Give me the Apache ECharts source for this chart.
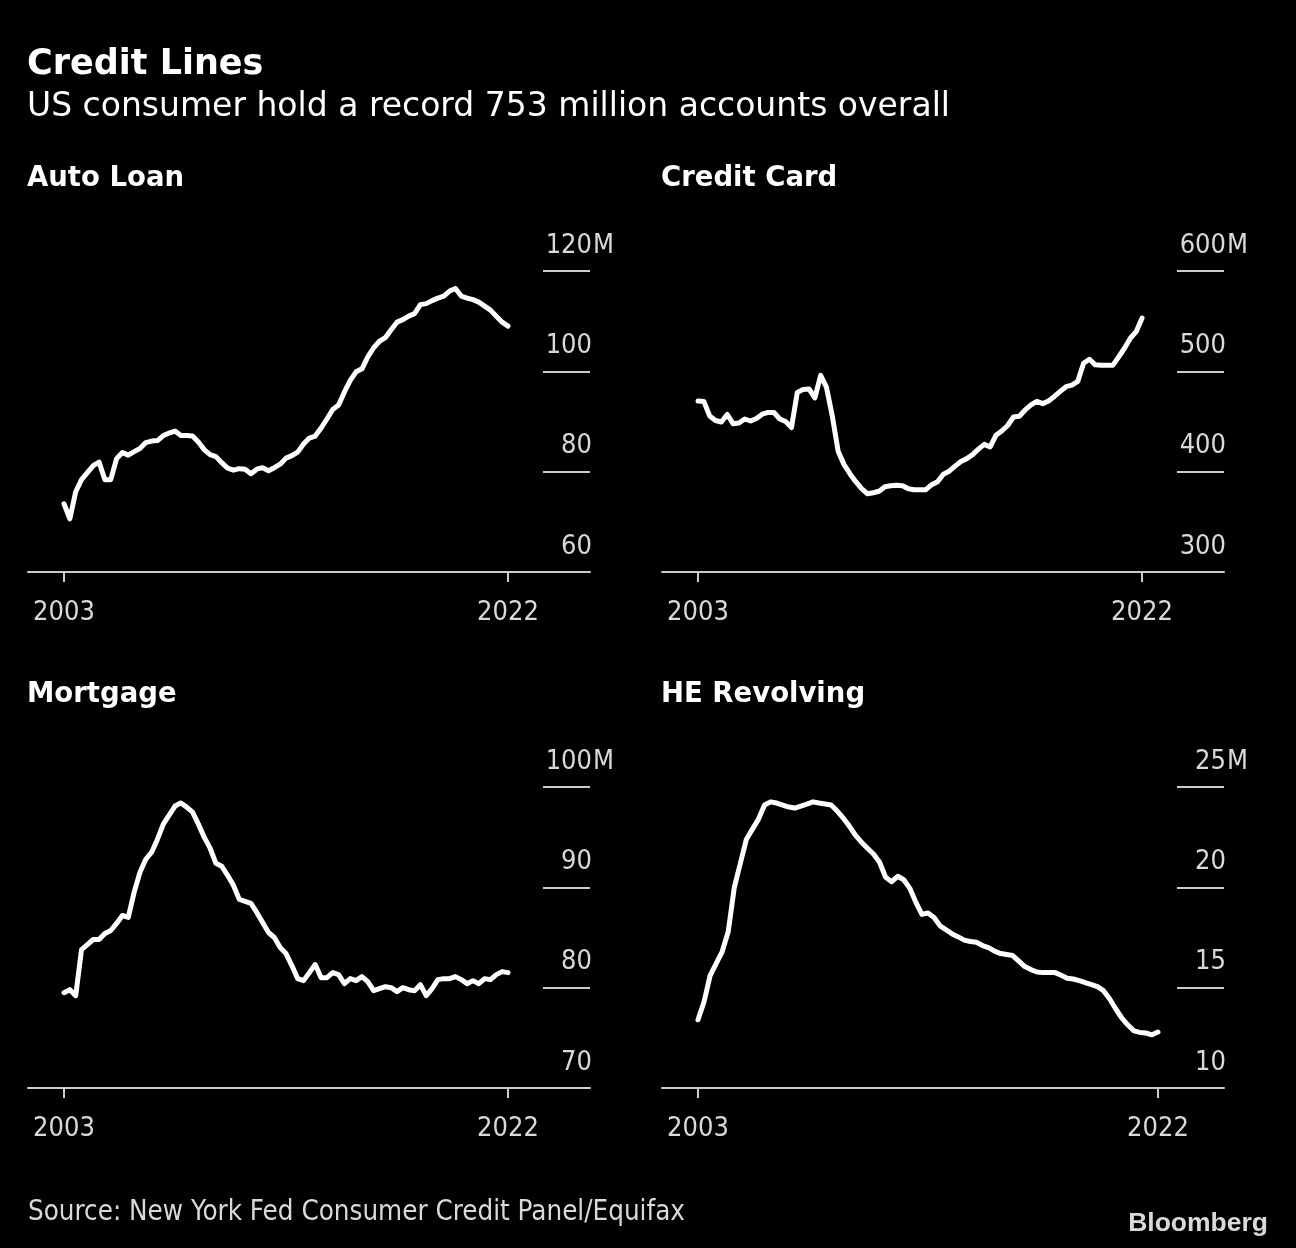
<!DOCTYPE html>
<html>
<head>
<meta charset="utf-8">
<script src="https://cdn.jsdelivr.net/npm/echarts@6/dist/echarts.min.js"></script>
<style>
html,body{margin:0;padding:0;background:#000;}
#chart{width:1296px;height:1248px;}
</style>
</head>
<body>
<div id="chart"></div>
<script>
// Quarterly data, 2003 Q1 .. 2022 Q1 (millions of accounts)
const startYear = 2003;
const xTickYears = [2003, 2022];

const panelTitles = ['Auto Loan', 'Credit Card', 'Mortgage', 'HE Revolving'];

const autoLoan = [
  73.6, 70.6, 76.0, 78.4, 79.8, 81.2, 81.9, 78.4, 78.4, 82.6,
  83.8, 83.3, 84.0, 84.6, 85.8, 86.1, 86.2, 87.2, 87.7, 88.1,
  87.2, 87.2, 87.1, 85.9, 84.4, 83.4, 83.0, 81.8, 80.7, 80.3,
  80.6, 80.5, 79.6, 80.5, 80.8, 80.2, 80.8, 81.5, 82.7, 83.2,
  83.9, 85.5, 86.7, 87.1, 88.7, 90.5, 92.4, 93.3, 95.9, 98.2,
  99.9, 100.5, 102.9, 104.7, 106.0, 106.7, 108.3, 109.8, 110.3, 111.0,
  111.5, 113.3, 113.5, 114.1, 114.6, 115.0, 116.0, 116.5, 115.0, 114.6,
  114.3, 113.8, 113.0, 112.2, 111.0, 109.8, 109.0
];

const creditCard = [
  470.4, 470.0, 455.5, 451.0, 449.5, 457.0, 447.8, 448.5, 452.5, 450.5,
  453.0, 457.3, 459.0, 459.0, 452.5, 450.0, 444.0, 479.0, 482.0, 482.5,
  473.5, 496.0, 484.0, 455.0, 420.0, 407.0, 398.0, 390.0, 383.0, 378.0,
  379.0, 380.5, 385.0, 386.0, 386.4, 386.0, 383.0, 382.0, 382.0, 382.0,
  387.0, 390.0, 397.5, 400.5, 405.5, 410.2, 413.0, 417.0, 422.5, 427.2,
  424.6, 436.2, 440.5, 446.0, 454.5, 455.3, 461.5, 466.5, 470.0, 467.8,
  470.5, 475.0, 480.0, 484.7, 486.3, 490.0, 508.0, 512.0, 506.5, 506.0,
  506.0, 506.0, 514.3, 523.0, 533.0, 539.5, 553.0
];

const mortgage = [
  79.5, 79.8, 79.2, 83.8, 84.3, 84.8, 84.8, 85.4, 85.7, 86.4,
  87.2, 87.0, 89.5, 91.5, 92.8, 93.5, 94.8, 96.3, 97.2, 98.1,
  98.4, 98.0, 97.5, 96.3, 95.0, 93.9, 92.4, 92.1, 91.2, 90.2,
  88.8, 88.6, 88.4, 87.5, 86.5, 85.5, 85.0, 84.0, 83.4, 82.2,
  80.9, 80.7, 81.5, 82.3, 81.0, 81.0, 81.5, 81.3, 80.4, 80.9,
  80.7, 81.1, 80.6, 79.7, 79.9, 80.1, 80.0, 79.6, 80.0, 79.8,
  79.7, 80.3, 79.2, 79.9, 80.8, 80.9, 80.9, 81.1, 80.8, 80.4,
  80.7, 80.4, 80.9, 80.8, 81.3, 81.6, 81.5
];

const heRevolving = [
  13.4, 14.3, 15.6, 16.2, 16.8, 17.8, 20.0, 21.2, 22.4, 22.9,
  23.4, 24.1, 24.26, 24.2, 24.1, 24.0, 23.95, 24.05, 24.15, 24.26,
  24.2, 24.15, 24.1, 23.8, 23.45, 23.05, 22.6, 22.25, 21.95, 21.66,
  21.25, 20.5, 20.28, 20.55, 20.38, 19.95, 19.25, 18.65, 18.72, 18.5,
  18.08, 17.88, 17.68, 17.53, 17.37, 17.3, 17.26, 17.1, 17.0, 16.82,
  16.7, 16.65, 16.6, 16.32, 16.05, 15.9, 15.78, 15.75, 15.75, 15.75,
  15.62, 15.47, 15.43, 15.35, 15.25, 15.15, 15.05, 14.85, 14.45, 13.95,
  13.5, 13.15, 12.85, 12.77, 12.74, 12.65, 12.79
];

const yMins = [60, 300, 70, 10];
const yMaxs = [120, 600, 100, 25];
const yIntervals = [20, 100, 10, 5];

const seriesValues = [autoLoan, creditCard, mortgage, heRevolving];

// layout
const grids = [
  {left: 28, top: 271, width: 562, height: 301},
  {left: 662, top: 271, width: 562, height: 301},
  {left: 28, top: 787, width: 562, height: 301},
  {left: 662, top: 787, width: 562, height: 301}
];
const xRanges = [
  [2001.459, 2025.509],
  [2001.459, 2025.509],
  [2001.459, 2025.509],
  [2001.513, 2024.727]
];

const labelColor = '#d9d9d9';
const axisColor = '#cccccc';
const condFont = '"DejaVu Sans Condensed", "DejaVu Sans", sans-serif';
const sansFont = '"DejaVu Sans", sans-serif';

const chart = echarts.init(document.getElementById('chart'), null, {renderer: 'canvas'});

const titles = [
  {text: 'Credit Lines', left: 27, top: 47, padding: 0,
   textStyle: {color: '#ffffff', fontFamily: sansFont, fontWeight: 'bold', fontSize: 35}},
  {text: 'US consumer hold a record 753 million accounts overall', left: 27, top: 91, padding: 0,
   textStyle: {color: '#ffffff', fontFamily: sansFont, fontWeight: 'normal', fontSize: 33}},
  {text: 'Source: New York Fed Consumer Credit Panel/Equifax', left: 28, top: 1199, padding: 0,
   textStyle: {color: labelColor, fontFamily: condFont, fontWeight: 'normal', fontSize: 27.5}},
  {text: 'Bloomberg', right: 28, top: 1210, padding: 0,
   textStyle: {color: labelColor, fontFamily: '"Liberation Sans", Arial, sans-serif', fontWeight: 'bold', fontSize: 26.5}}
];
const titlePos = [[28, 165], [662, 165], [28, 681], [662, 681]];
panelTitles.forEach((t, i) => {
  titles.push({text: t, left: titlePos[i][0] - 1, top: titlePos[i][1], padding: 0,
    textStyle: {color: '#ffffff', fontFamily: sansFont, fontWeight: 'bold', fontSize: 27.5}});
});

const xAxes = [], yAxes = [], series = [];
for (let i = 0; i < 4; i++) {
  xAxes.push({
    type: 'value', gridIndex: i, min: xRanges[i][0], max: xRanges[i][1],
    splitLine: {show: false},
    axisLine: {show: true, lineStyle: {color: axisColor, width: 2}},
    axisTick: {show: true, customValues: xTickYears, length: 10, lineStyle: {color: axisColor, width: 2}},
    axisLabel: {show: true, customValues: xTickYears, margin: 27, color: labelColor,
      fontFamily: condFont, fontSize: 27, formatter: v => String(Math.round(v))}
  });
  const maxV = yMaxs[i];
  yAxes.push({
    type: 'value', gridIndex: i, position: 'right', min: yMins[i], max: yMaxs[i], interval: yIntervals[i],
    splitLine: {show: false},
    axisLine: {show: false},
    axisTick: {show: true, inside: true, length: 47, lineStyle: {color: axisColor, width: 2}},
    axisLabel: {
      show: true, inside: true, margin: -24, align: 'right', verticalAlign: 'bottom',
      color: labelColor, fontFamily: condFont, fontSize: 27, padding: [0, 0, 12, 0],
      formatter: v => '{n|' + v + '}' + (v === maxV ? '{m|M}' : '{h|M}'),
      rich: {
        n: {color: labelColor, fontFamily: condFont, fontSize: 27},
        m: {color: labelColor, fontFamily: condFont, fontSize: 27, padding: [0, 0, 0, 3], width: 19},
        h: {color: 'rgba(0,0,0,0)', fontFamily: condFont, fontSize: 27, padding: [0, 0, 0, 3], width: 19}
      }
    }
  });
  series.push({
    type: 'line', xAxisIndex: i, yAxisIndex: i,
    data: seriesValues[i].map((v, k) => [startYear + k / 4, v]),
    showSymbol: false, symbol: 'none', smooth: false,
    lineStyle: {color: '#ffffff', width: 5, cap: 'round', join: 'round'},
    animation: false
  });
}

chart.setOption({
  backgroundColor: '#000000',
  animation: false,
  title: titles,
  grid: grids,
  xAxis: xAxes,
  yAxis: yAxes,
  series: series
});
</script>
</body>
</html>
